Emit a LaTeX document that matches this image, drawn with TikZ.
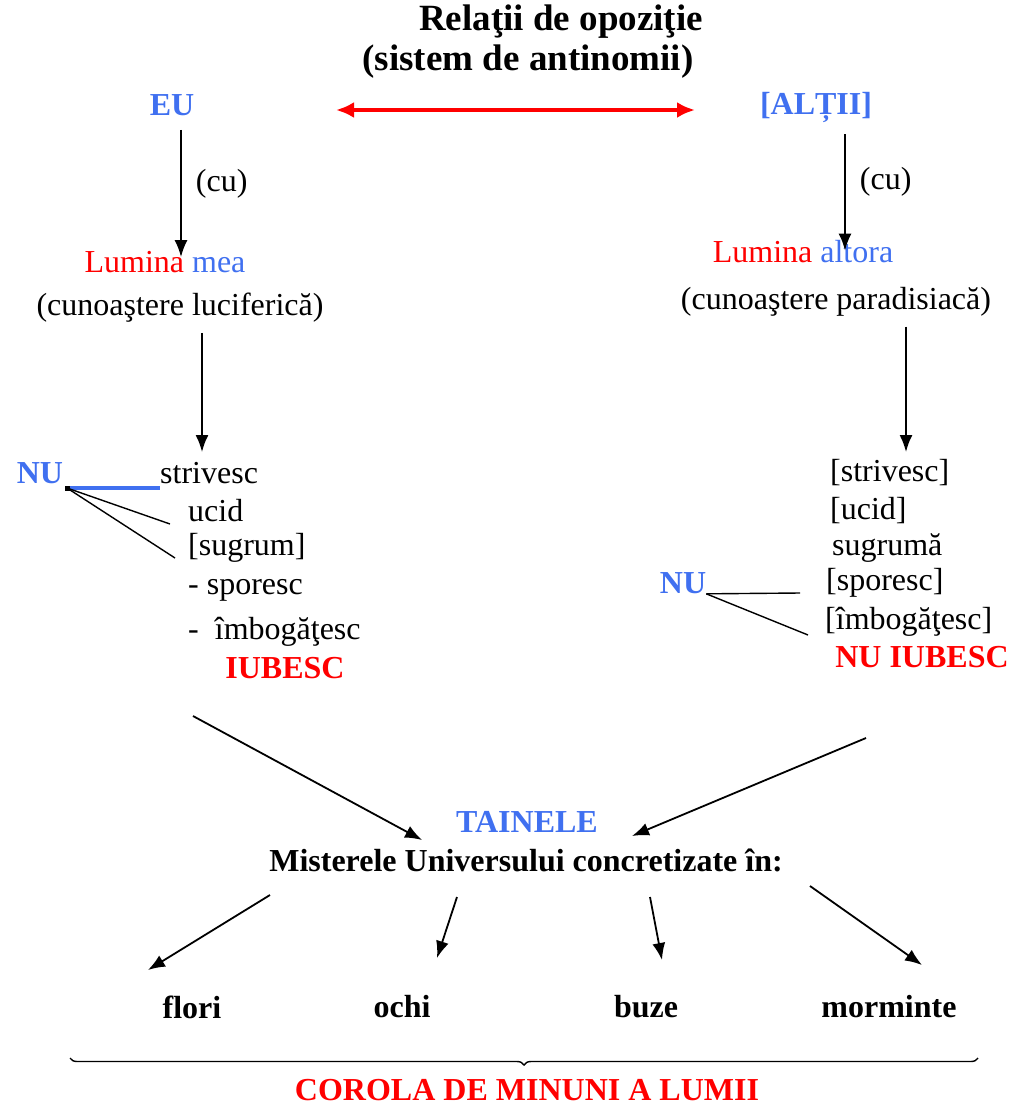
\documentclass[tikz,border=0pt]{standalone}
\usepackage{fontspec}
\setmainfont{Liberation Serif}
\usetikzlibrary{arrows.meta,decorations.pathreplacing}
\definecolor{blueT}{RGB}{64,112,240}
\definecolor{redT}{RGB}{255,0,0}

\begin{document}
\begin{tikzpicture}[
	x=1pt, y=-1pt,
	txt/.style={ inner sep=0pt, font=\fontsize{32}{36}\selectfont },
	txtb/.style={ inner sep=0pt, font=\fontsize{32}{36}\selectfont\bfseries },
	ttl/.style={ inner sep=0pt, font=\fontsize{37}{42}\selectfont\bfseries },
	lst/.style={ txt, anchor=west },
	arr/.style={ -{Latex[length=17pt,width=13pt]}, line width=1.8pt },
	arrred/.style={ {Latex[length=18pt,width=16pt]}-{Latex[length=18pt,width=16pt]}, line width=4pt, redT }
]
\useasboundingbox (0,0) rectangle (1010,1109);

% title
\node at (561,22) (title) [ttl] {Relaţii de opoziţie};
\node at (528,62) (subtitle) [ttl] {(sistem de antinomii)};

% the two poles
\node at (172,105) (eu) [txtb,blueT] {EU};
\node at (816,107) (altii) [txtb,blueT] {[ALȚII]};
\draw[arrred] (336,110) -- (695,110);

% left branch
\node at (165,262) (lmea) [txt] {\textcolor{redT}{Lumina} \textcolor{blueT}{mea}};
\node at (180,308) (clucif) [txt] {(cunoaştere luciferică)};
\coordinate (colA) at (181,0);
\draw[arr,shorten <=14pt,shorten >=-6pt] (eu.south -| colA) -- (lmea.north -| colA) node[midway,right=14pt,txt] {(cu)};
\coordinate (colB) at (202,0);
\coordinate (arrB) at (202,452);
\draw[arr,shorten <=10pt] (clucif.south -| colB) -- (arrB);

\node at (40,473) (nustg) [txtb,blueT] {NU};
\node at (160,473) (strivL) [lst] {strivesc};
\node at (188,511) (ucidL) [lst] {ucid};
\node at (188,548) (sugL) [lst] {[sugrum]};
\node at (188,590) (sporL) [lst] {-\ sporesc};
\node at (188,632) (imbL) [lst] {-\ \ îmbogăţesc};
\node at (285,668) (iubL) [txtb,redT] {IUBESC};
\node at (67,488) (nudot) [fill, inner sep=0pt, minimum size=5pt] {};
\draw[blueT, line width=4pt] (nudot.east) -- (strivL.west |- nudot.east);
\coordinate (ucidE) at (170,524);
\coordinate (sugE) at (175,558);
\foreach \p in {ucidE,sugE} \draw[line width=1.4pt] (nudot.center) -- (\p);

% right branch
\node at (803,252) (laltora) [txt] {\textcolor{redT}{Lumina} \textcolor{blueT}{altora}};
\node at (836,302) (cparad) [txt] {(cunoaştere paradisiacă)};
\coordinate (colC) at (845,0);
\draw[arr,shorten <=12pt,shorten >=-10pt] (altii.south -| colC) -- (laltora.north -| colC) node[midway,right=14pt,txt] {(cu)};
\coordinate (colD) at (906,0);
\coordinate (arrD) at (906,452);
\draw[arr,shorten <=10pt] (cparad.south -| colD) -- (arrD);

\node at (830,473) (strivR) [lst] {[strivesc]};
\node at (830,511) (ucidR) [lst] {[ucid]};
\node at (832,548) (sugR) [lst] {sugrumă};
\node at (826,583) (sporR) [lst] {[sporesc]};
\node at (825,622) (imbR) [lst] {[îmbogăţesc]};
\node at (922,657) (iubR) [txtb,redT] {NU IUBESC};
\node at (683,583) (nudr) [txtb,blueT] {NU};
\coordinate (sporE) at (800,593);
\coordinate (imbE) at (808,635);
\foreach \p in {sporE,imbE} \draw[line width=1.4pt] (nudr.south east) -- (\p);

% the mysteries
\node at (527,822) (tainele) [txtb,blueT] {TAINELE};
\node at (526,860) (mister) [txtb] {Misterele Universului concretizate în:};
\coordinate (fromL) at (193,716);
\coordinate (toL) at (422,840);
\coordinate (fromR) at (866,738);
\coordinate (toR) at (632,836);
\draw[arr] (fromL) -- (toL);
\draw[arr] (fromR) -- (toR);

\node at (192,1007) (flori) [txtb] {flori};
\node at (402,1007) (ochi) [txtb] {ochi};
\node at (646,1007) (buze) [txtb] {buze};
\node at (889,1007) (morm) [txtb] {morminte};
\coordinate (m1) at (270,895);
\coordinate (m2) at (457,897);
\coordinate (m3) at (650,897);
\coordinate (m4) at (810,886);
\draw[arr] (m1) -- (148,970);
\draw[arr] (m2) -- (437,958);
\draw[arr] (m3) -- (662,960);
\draw[arr] (m4) -- (922,965);

% corolla
\draw[line width=1.4pt, decorate, decoration={brace, mirror, amplitude=7pt}] (70,1058) -- (978,1058);
\node at (527,1090) (corola) [txtb,redT] {COROLA DE MINUNI A LUMII};

\end{tikzpicture}
\end{document}
